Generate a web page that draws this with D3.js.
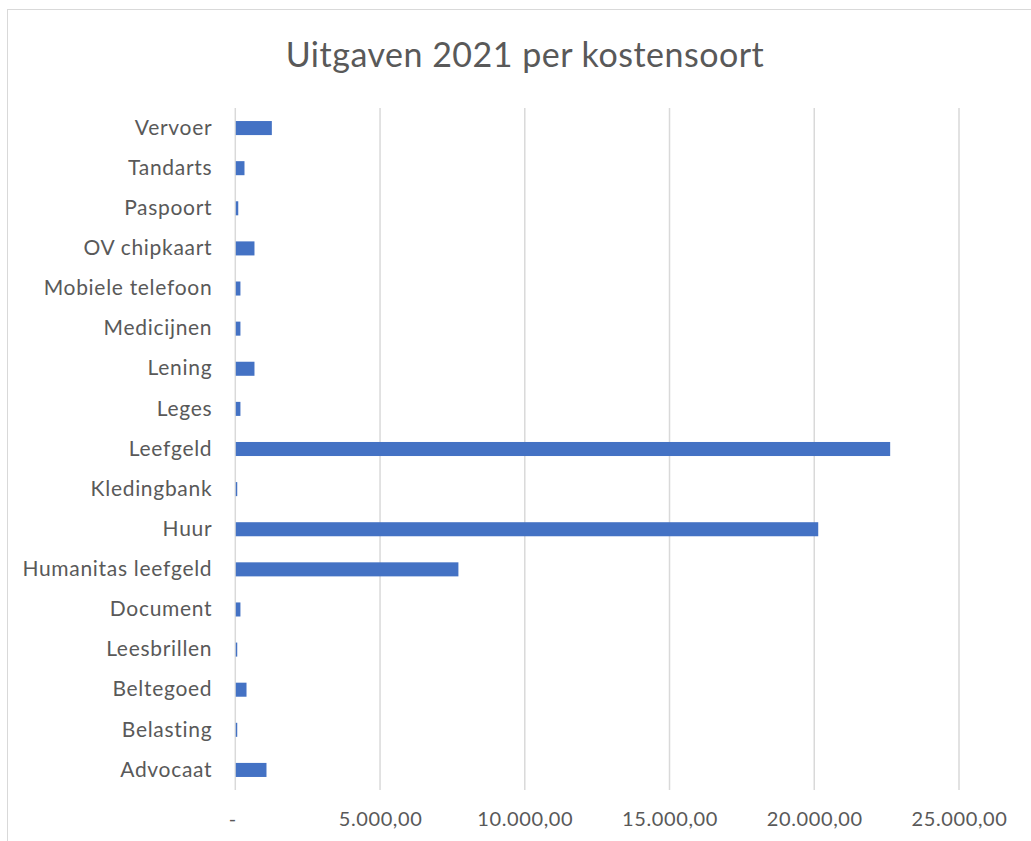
<!DOCTYPE html>
<html>
<head>
<meta charset="utf-8">
<script src="https://cdn.jsdelivr.net/npm/d3@7"></script>
<style>
  body { margin: 0; background: #fff; }
  svg { font-family: Lato, "Open Sans", sans-serif; }
</style>
</head>
<body>
<div id="chart"></div>
<script>
// categories top to bottom, as in the picture
const categories = ["Vervoer", "Tandarts", "Paspoort", "OV chipkaart", "Mobiele telefoon",
  "Medicijnen", "Lening", "Leges", "Leefgeld", "Kledingbank", "Huur", "Humanitas leefgeld",
  "Document", "Leesbrillen", "Beltegoed", "Belasting", "Advocaat"]
const amounts = [1245, 300, 85, 645, 160, 160, 645, 160, 22605, 50, 20120, 7690, 160, 50, 370, 50, 1060]
const tickValues = [0, 5000, 10000, 15000, 20000, 25000]

let width = 1031, height = 841
let margin = {top: 108, right: 72, bottom: 51, left: 235.3}

let svg = d3.select("#chart").append("svg")
  .attr("width", width).attr("height", height)

// chart border (cut off at right and bottom)
svg.append("rect")
  .attr("x", 7.5).attr("y", 9.5)
  .attr("width", 1040).attr("height", 860)
  .attr("fill", "none").attr("stroke", "#d9d9d9").attr("stroke-width", 1)

let xScale = d3.scaleLinear().domain([0, 25000]).range([margin.left, width - margin.right])
let yScale = d3.scaleBand().domain(categories).range([margin.top, height - margin.bottom]).paddingInner(0.65).paddingOuter(0.325)

// gridlines
svg.append("g").selectAll("line")
  .data(tickValues)
  .enter().append("line")
  .attr("x1", d => xScale(d)).attr("x2", d => xScale(d))
  .attr("y1", margin.top).attr("y2", height - margin.bottom)
  .style("stroke", "#d9d9d9").style("stroke-width", 1.5)

// bars
svg.append("g").selectAll("rect")
  .data(categories)
  .enter().append("rect")
  .attr("x", xScale(0) + 0.5)
  .attr("y", d => yScale(d))
  .attr("width", (d, i) => Math.max(0, xScale(amounts[i]) - xScale(0)))
  .attr("height", yScale.bandwidth())
  .style("fill", "#4472c4")

function euro(v) {
  if (v === 0) return "-"
  return d3.format(",.2f")(v).replace(/,/g, "#").replace(".", ",").replace(/#/g, ".")
}

// x axis labels
let xAxis = svg.append("g")
  .attr("transform", "translate(0," + (height - margin.bottom) + ")")
  .call(d3.axisBottom(xScale).tickValues(tickValues).tickFormat(euro).tickSize(0).tickPadding(22))
xAxis.select(".domain").remove()
xAxis.selectAll("text").style("font-size", "20px").style("letter-spacing", "0.6px")
  .style("fill", "#595959").style("font-family", "Lato, sans-serif")
xAxis.selectAll(".tick").filter(d => d === 0).select("text").attr("dx", -3)

// y axis labels
let yAxis = svg.append("g")
  .attr("transform", "translate(" + margin.left + ",0)")
  .call(d3.axisLeft(yScale).tickSize(0).tickPadding(23))
yAxis.select(".domain").remove()
yAxis.selectAll("text").style("font-size", "21px").style("letter-spacing", "0.7px")
  .style("fill", "#595959").style("font-family", "Lato, sans-serif")

// title
svg.append("text")
  .attr("x", 525).attr("y", 67)
  .attr("text-anchor", "middle")
  .style("font-size", "34px").style("letter-spacing", "0.5px").style("fill", "#595959")
  .text("Uitgaven 2021 per kostensoort")
</script>
</body>
</html>
